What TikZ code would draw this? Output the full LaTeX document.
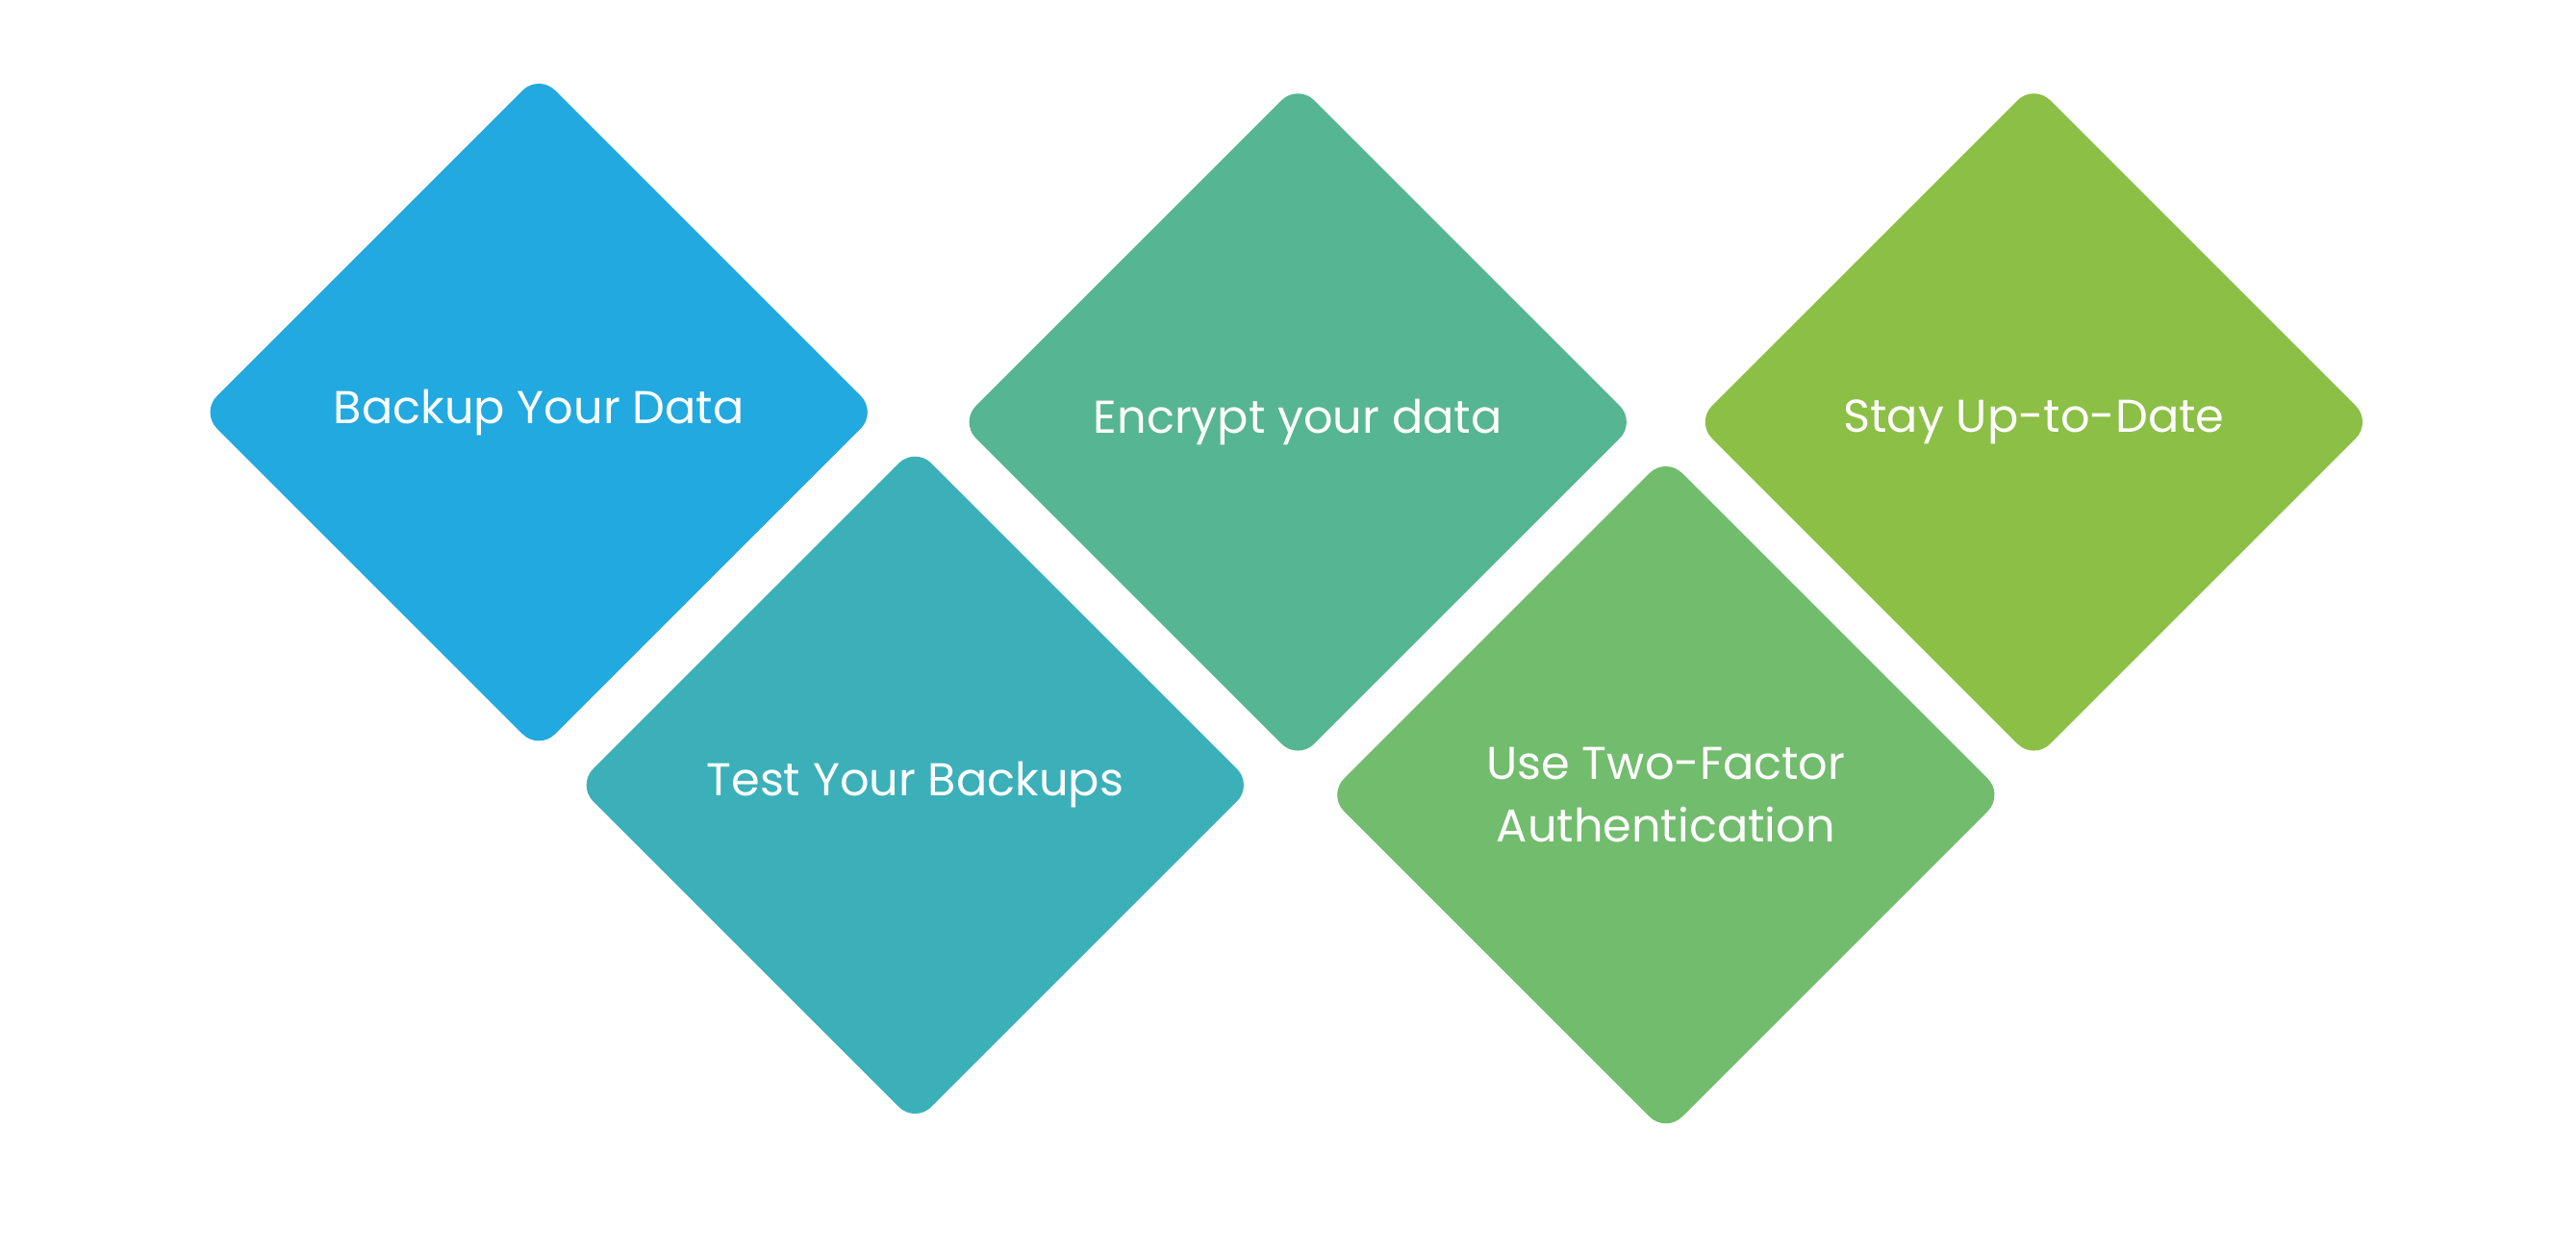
\documentclass[tikz,border=0pt]{standalone}
\usepackage{fontspec}
\setmainfont{Poppins}
\usetikzlibrary{shapes.geometric}
\definecolor{cBlue}{HTML}{21A9E0}
\definecolor{cTeal}{HTML}{3BB0B9}
\definecolor{cSea}{HTML}{56B592}
\definecolor{cGreen}{HTML}{72BC6E}
\definecolor{cLime}{HTML}{8CBF45}
\begin{document}
\begin{tikzpicture}[x=0.5pt, y=-0.5pt,
  tile/.style = {diamond, aspect=1, minimum size=206pt, inner sep=0pt,
                 rounded corners=7pt, text=white, align=center,
                 font=\fontsize{14}{19}\selectfont}
                   ]
\fill[white] (0,0) rectangle (1568,763);
% top row
\node (backup)  [tile, fill=cBlue] at (328,251) {Backup Your Data};
\node (encrypt) [tile, fill=cSea]  at (790,257) {Encrypt your data};
\node (update)  [tile, fill=cLime] at (1238,257) {Stay Up-to-Date};
% bottom row
\node (test)    [tile, fill=cTeal]  at (557,478) {Test Your Backups};
\node (twofa)   [tile, fill=cGreen] at (1014,484) {Use Two-Factor\\Authentication};
\end{tikzpicture}
\end{document}
